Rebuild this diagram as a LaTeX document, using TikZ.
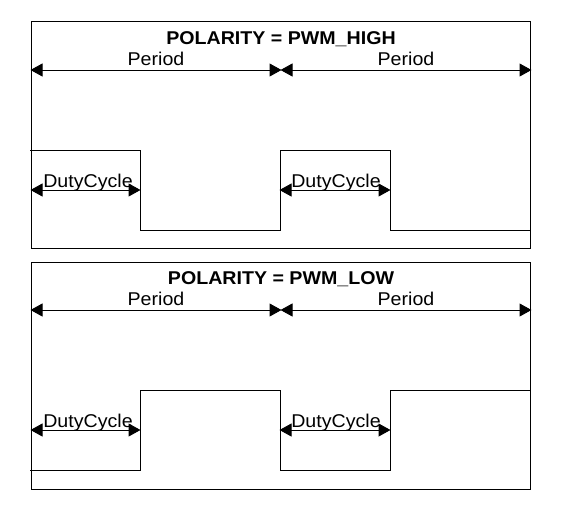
\documentclass[tikz,border=0pt]{standalone}
\usepackage{fontspec}
\setmainfont{Liberation Sans}[FakeStretch=1.06]
\usetikzlibrary{arrows.meta}
\tikzset{
  panel/.style={draw=black, line width=1pt},
  wave/.style={draw=black, line width=1pt},
  dim/.style={draw=black, line width=1pt, {Triangle[length=12pt,width=13pt]}-{Triangle[length=12pt,width=13pt]}, shorten <=-0.5pt, shorten >=-0.5pt},
  ttl/.style={font=\fontsize{18.5}{20}\selectfont\bfseries, anchor=base, inner sep=0pt},
  lbl/.style={font=\fontsize{18.5}{20}\selectfont, anchor=base, inner sep=0pt},
}
\begin{document}
\begin{tikzpicture}[x=1pt,y=-1pt]
\useasboundingbox (0,0) rectangle (570,520);
% ---------- top panel ----------
\draw[panel] (31,21) rectangle (530,248);
\node[ttl] (t1) at (281,44) {POLARITY = PWM\_HIGH};
\coordinate (a1) at (31,70);
\coordinate (b1) at (281,70);
\coordinate (c1) at (531,70);
\draw[dim] (a1) -- (b1);
\draw[dim] (b1) -- (c1);
\node[lbl] (p11) at (156,65) {Period};
\node[lbl] (p12) at (406,65) {Period};
\draw[wave] (30,150) -- (140,150) -- (140,230) -- (280,230) -- (280,150) -- (390,150) -- (390,230) -- (531,230);
\coordinate (d11) at (31,190);
\coordinate (e11) at (140,190);
\coordinate (d12) at (280,190);
\coordinate (e12) at (390,190);
\draw[dim] (d11) -- (e11);
\draw[dim] (d12) -- (e12);
\node[lbl] (q11) at (88,187) {DutyCycle};
\node[lbl] (q12) at (336,187) {DutyCycle};
% ---------- bottom panel ----------
\draw[panel] (31,262) rectangle (530,489);
\node[ttl] (t2) at (281,284) {POLARITY = PWM\_LOW};
\coordinate (a2) at (31,310);
\coordinate (b2) at (281,310);
\coordinate (c2) at (531,310);
\draw[dim] (a2) -- (b2);
\draw[dim] (b2) -- (c2);
\node[lbl] (p21) at (156,305) {Period};
\node[lbl] (p22) at (406,305) {Period};
\draw[wave] (30,470) -- (140,470) -- (140,390) -- (280,390) -- (280,470) -- (390,470) -- (390,390) -- (531,390);
\coordinate (d21) at (31,430);
\coordinate (e21) at (140,430);
\coordinate (d22) at (280,430);
\coordinate (e22) at (390,430);
\draw[dim] (d21) -- (e21);
\draw[dim] (d22) -- (e22);
\node[lbl] (q21) at (88,427) {DutyCycle};
\node[lbl] (q22) at (336,427) {DutyCycle};
\end{tikzpicture}
\end{document}
